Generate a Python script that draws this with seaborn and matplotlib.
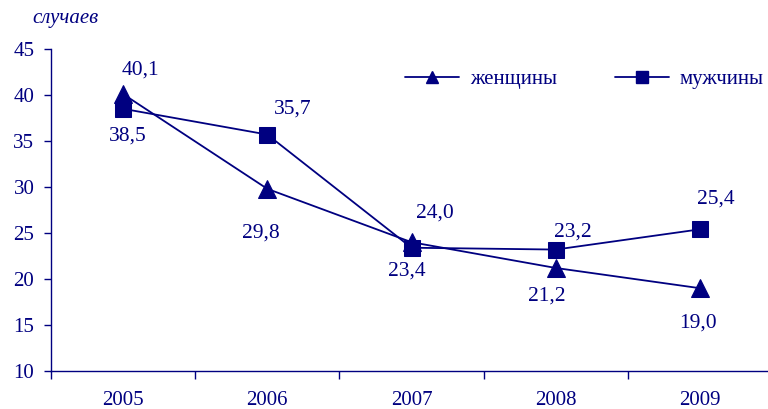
import matplotlib
matplotlib.use("Agg")
import matplotlib.pyplot as plt
from matplotlib.lines import Line2D
import pandas as pd
import seaborn as sns

years = ["2005", "2006", "2007", "2008", "2009"]
women = [40.1, 29.8, 24.0, 21.2, 19.0]
men = [38.5, 35.7, 23.4, 23.2, 25.4]

navy = "#000080"
sns.set_style("white")
plt.rcParams["font.family"] = ["Liberation Serif", "DejaVu Serif"]

df = pd.DataFrame({"idx": range(len(years)), "women": women, "men": men})

fig = plt.figure(figsize=(7.68, 4.09), dpi=100)
ax = fig.add_axes([51 / 768, 38 / 409, 721 / 768, 322 / 409])

sns.lineplot(data=df, x="idx", y="women", ax=ax, color=navy, marker="^",
             markersize=13, linewidth=1.3, markeredgecolor=navy)
sns.lineplot(data=df, x="idx", y="men", ax=ax, color=navy, marker="s",
             markersize=12, linewidth=1.3, markeredgecolor=navy)

# data labels (pixel offsets from the point)
women_off = [(17, 24), (-6, -44), (23, 29), (-9, -28), (-2, -35)]
men_off = [(5, -27), (25, 26), (-5, -23), (17, 18), (16, 30)]
for i in range(len(years)):
    ax.annotate(f"{women[i]:.1f}".replace(".", ","), (i, women[i]),
                xytext=women_off[i], textcoords="offset pixels",
                ha="center", va="center", fontsize=15.5, color=navy)
    ax.annotate(f"{men[i]:.1f}".replace(".", ","), (i, men[i]),
                xytext=men_off[i], textcoords="offset pixels",
                ha="center", va="center", fontsize=15.5, color=navy)

ax.set_xlim(-0.5, 4.5)
ax.set_ylim(10, 45)
ax.set_yticks(range(10, 46, 5))
ax.set_xticks(range(len(years)))
ax.set_xticklabels(years)
ax.set_xticks([i - 0.5 for i in range(len(years))], minor=True)
ax.set_xlabel("")
ax.set_ylabel("")

for side in ["top", "right"]:
    ax.spines[side].set_visible(False)
for side in ["left", "bottom"]:
    ax.spines[side].set_color(navy)
    ax.spines[side].set_linewidth(1.0)

ax.tick_params(axis="y", left=True, length=5, width=1, color=navy,
               labelcolor=navy, labelsize=15, pad=7)
ax.tick_params(axis="x", which="major", bottom=False, labelcolor=navy,
               labelsize=15, pad=11)
ax.tick_params(axis="x", which="minor", bottom=True, length=6, width=1,
               color=navy)

fig.text(65 / 768, 1 - 18 / 409, "случаев", fontsize=15, style="italic",
         color=navy, ha="center", va="center")

handles = [
    Line2D([], [], color=navy, marker="^", markersize=9, linewidth=1.3),
    Line2D([], [], color=navy, marker="s", markersize=8, linewidth=1.3),
]
leg = ax.legend(handles, ["женщины", "мужчины"], ncol=2, frameon=False,
                loc="center", bbox_to_anchor=(0.74, 0.905), fontsize=15,
                handlelength=2.6, columnspacing=2.8, handletextpad=0.5)
for t in leg.get_texts():
    t.set_color(navy)

fig.savefig("out.png", dpi=100)
